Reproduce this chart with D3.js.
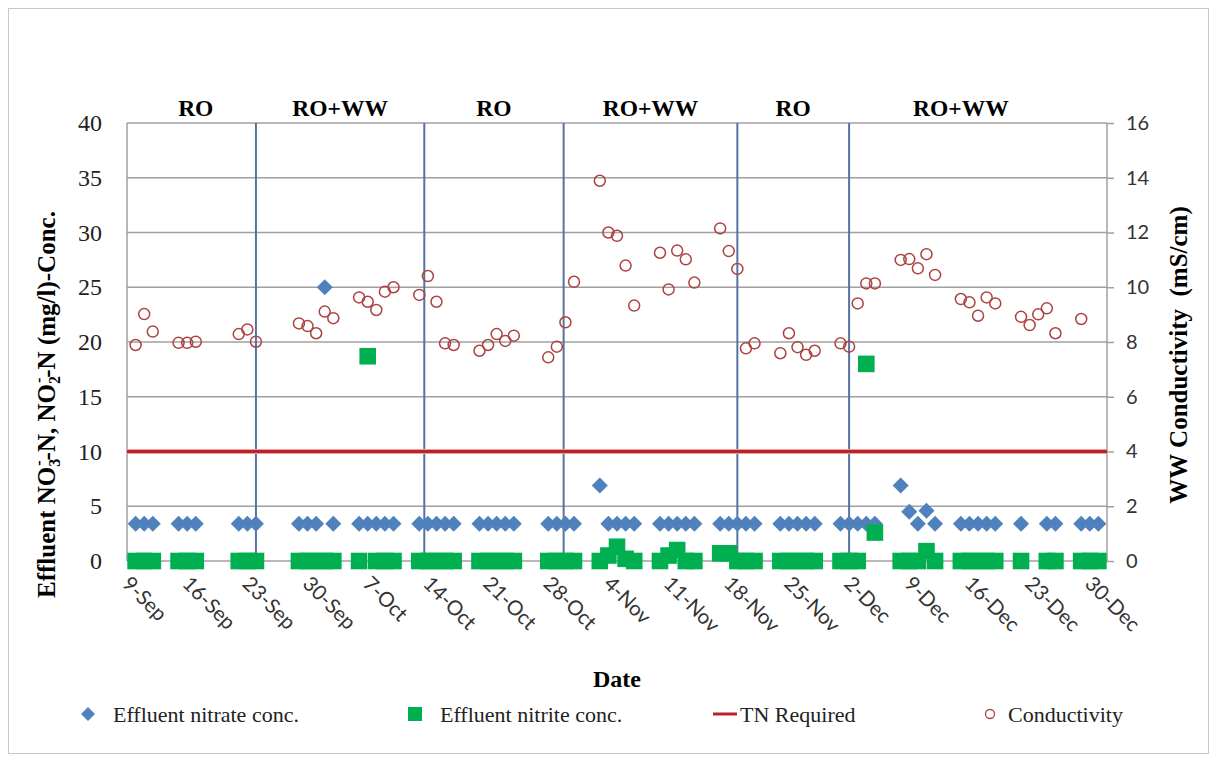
<!DOCTYPE html>
<html>
<head>
<meta charset="utf-8">
<script src="https://cdn.jsdelivr.net/npm/d3@7"></script>
<style>
  body { margin: 0; background: #fff; }
</style>
</head>
<body>
<svg id="chart" width="1217" height="764"></svg>
<script>
// sampling days for effluent nitrate / nitrite
var sampleDates = [
  '2014-09-10', '2014-09-11', '2014-09-12',
  '2014-09-15', '2014-09-16', '2014-09-17',
  '2014-09-22', '2014-09-23', '2014-09-24',
  '2014-09-29', '2014-09-30', '2014-10-01', '2014-10-02', '2014-10-03',
  '2014-10-06', '2014-10-07', '2014-10-08', '2014-10-09', '2014-10-10',
  '2014-10-13', '2014-10-14', '2014-10-15', '2014-10-16', '2014-10-17',
  '2014-10-20', '2014-10-21', '2014-10-22', '2014-10-23', '2014-10-24',
  '2014-10-28', '2014-10-29', '2014-10-30', '2014-10-31',
  '2014-11-03', '2014-11-04', '2014-11-05', '2014-11-06', '2014-11-07',
  '2014-11-10', '2014-11-11', '2014-11-12', '2014-11-13', '2014-11-14',
  '2014-11-17', '2014-11-18', '2014-11-19', '2014-11-20', '2014-11-21',
  '2014-11-24', '2014-11-25', '2014-11-26', '2014-11-27', '2014-11-28',
  '2014-12-01', '2014-12-02', '2014-12-03', '2014-12-04', '2014-12-05',
  '2014-12-08', '2014-12-09', '2014-12-10', '2014-12-11', '2014-12-12',
  '2014-12-15', '2014-12-16', '2014-12-17', '2014-12-18', '2014-12-19',
  '2014-12-22',
  '2014-12-25', '2014-12-26',
  '2014-12-29', '2014-12-30', '2014-12-31'
];

var nitrate = [
  3.4, 3.4, 3.4,
  3.4, 3.4, 3.4,
  3.4, 3.4, 3.4,
  3.4, 3.4, 3.4, 25, 3.4,
  3.4, 3.4, 3.4, 3.4, 3.4,
  3.4, 3.4, 3.4, 3.4, 3.4,
  3.4, 3.4, 3.4, 3.4, 3.4,
  3.4, 3.4, 3.4, 3.4,
  6.9, 3.4, 3.4, 3.4, 3.4,
  3.4, 3.4, 3.4, 3.4, 3.4,
  3.4, 3.4, 3.4, 3.4, 3.4,
  3.4, 3.4, 3.4, 3.4, 3.4,
  3.4, 3.4, 3.4, 3.4, 3.4,
  6.9, 4.5, 3.4, 4.6, 3.4,
  3.4, 3.4, 3.4, 3.4, 3.4,
  3.4,
  3.4, 3.4,
  3.4, 3.4, 3.4
];

var nitrite = [
  0, 0, 0,
  0, 0, 0,
  0, 0, 0,
  0, 0, 0, 0, 0,
  0, 18.7, 0, 0, 0,
  0, 0, 0, 0, 0,
  0, 0, 0, 0, 0,
  0, 0, 0, 0,
  0, 0.5, 1.3, 0.2, 0,
  0, 0.5, 1.0, 0, 0,
  0.7, 0.7, 0, 0, 0,
  0, 0, 0, 0, 0,
  0, 0, 0, 18, 2.6,
  0, 0, 0, 0.9, 0,
  0, 0, 0, 0, 0,
  0,
  0, 0,
  0, 0, 0
];

// conductivity measured on a slightly different set of days
var condDates = [
  '2014-09-10', '2014-09-11', '2014-09-12',
  '2014-09-15', '2014-09-16', '2014-09-17',
  '2014-09-22', '2014-09-23', '2014-09-24',
  '2014-09-29', '2014-09-30', '2014-10-01', '2014-10-02', '2014-10-03',
  '2014-10-06', '2014-10-07', '2014-10-08', '2014-10-09', '2014-10-10',
  '2014-10-13', '2014-10-14', '2014-10-15', '2014-10-16', '2014-10-17',
  '2014-10-20', '2014-10-21', '2014-10-22', '2014-10-23', '2014-10-24',
  '2014-10-28', '2014-10-29', '2014-10-30', '2014-10-31',
  '2014-11-03', '2014-11-04', '2014-11-05', '2014-11-06', '2014-11-07',
  '2014-11-10', '2014-11-11', '2014-11-12', '2014-11-13', '2014-11-14',
  '2014-11-17', '2014-11-18', '2014-11-19', '2014-11-20', '2014-11-21',
  '2014-11-24', '2014-11-25', '2014-11-26', '2014-11-27', '2014-11-28',
  '2014-12-01', '2014-12-02', '2014-12-03', '2014-12-04', '2014-12-05',
  '2014-12-08', '2014-12-09', '2014-12-10', '2014-12-11', '2014-12-12',
  '2014-12-15', '2014-12-16', '2014-12-17', '2014-12-18', '2014-12-19',
  '2014-12-22', '2014-12-23', '2014-12-24', '2014-12-25', '2014-12-26',
  '2014-12-29'
];

var conductivity = [
  7.89, 9.02, 8.38,
  7.97, 7.97, 8.01,
  8.29, 8.46, 8.01,
  8.68, 8.58, 8.32, 9.11, 8.87,
  9.63, 9.47, 9.17, 9.84, 10.0,
  9.72, 10.41, 9.47, 7.95, 7.89,
  7.68, 7.89, 8.29, 8.04, 8.23,
  7.44, 7.83, 8.72, 10.2,
  13.89, 12.0, 11.88, 10.79, 9.33,
  11.26, 9.92, 11.34, 11.02, 10.17,
  12.15, 11.32, 10.67, 7.77, 7.95,
  7.59, 8.32, 7.81, 7.53, 7.68,
  7.95, 7.83, 9.41, 10.14, 10.14,
  11.0, 11.03, 10.69, 11.21, 10.45,
  9.57, 9.45, 8.96, 9.63, 9.41,
  8.92, 8.62, 9.01, 9.23, 8.32,
  8.84
];

var tnRequired = 10;

// operating phases, separated by the vertical lines
var phaseBreaks = ['2014-09-24 00:00', '2014-10-13 14:00', '2014-10-29 19:00', '2014-11-19 00:00', '2014-12-02 00:00'];
var phaseNames = ['RO', 'RO+WW', 'RO', 'RO+WW', 'RO', 'RO+WW'];
var phaseStart = '2014-09-10 00:00';
var phaseEnd = '2014-12-28 00:00';

var xDomain = ['2014-09-09', '2015-01-01'];
var xTickDates = [
  '2014-09-09', '2014-09-16', '2014-09-23', '2014-09-30', '2014-10-07', '2014-10-14',
  '2014-10-21', '2014-10-28', '2014-11-04', '2014-11-11', '2014-11-18', '2014-11-25',
  '2014-12-02', '2014-12-09', '2014-12-16', '2014-12-23', '2014-12-30'
];
var leftTicks = [0, 5, 10, 15, 20, 25, 30, 35, 40];
var rightTicks = [0, 2, 4, 6, 8, 10, 12, 14, 16];

var legendNames = ['Effluent nitrate conc.', 'Effluent nitrite conc.', 'TN Required', 'Conductivity'];

var parseDay = d3.timeParse('%Y-%m-%d');
var parseTime = d3.timeParse('%Y-%m-%d %H:%M');
var fmtTick = d3.timeFormat('%-d-%b');

var serif = '"Liberation Serif", "Times New Roman", serif';
var sans = 'Lato, "Liberation Sans", sans-serif';

var blue = '#4f81bd';
var green = '#00b050';
var red = '#c0202a';
var circleRed = '#ac4340';
var gridGrey = '#a0a0a0';
var phaseBlue = '#5673a0';

var margin = { left: 127, right: 110, top: 123, bottom: 203 };
var W = 1217, H = 764;
var x0 = margin.left, x1 = W - margin.right;
var y0 = H - margin.bottom, y1 = margin.top;

var svg = d3.select('#chart');

svg.append('rect')
  .attr('x', 8.5).attr('y', 8.5)
  .attr('width', 1200).attr('height', 745)
  .attr('fill', '#fff')
  .attr('stroke', '#c8c8c8');

var xScale = d3.scaleTime()
  .domain(xDomain.map(parseDay))
  .range([x0, x1]);
var yLeft = d3.scaleLinear().domain([0, 40]).range([y0, y1]);
var yRight = d3.scaleLinear().domain([0, 16]).range([y0, y1]);

// horizontal gridlines
svg.append('g')
  .selectAll('line')
  .data(leftTicks)
  .enter()
  .append('line')
  .attr('x1', x0).attr('x2', x1)
  .attr('y1', function(d) { return yLeft(d); })
  .attr('y2', function(d) { return yLeft(d); })
  .attr('stroke', gridGrey)
  .attr('stroke-width', 1.5);

// plot side line
svg.append('line')
  .attr('x1', x0).attr('x2', x0).attr('y1', y1).attr('y2', y0)
  .attr('stroke', gridGrey).attr('stroke-width', 1.5);

// phase separators
svg.append('g')
  .selectAll('line')
  .data(phaseBreaks)
  .enter()
  .append('line')
  .attr('x1', function(d) { return xScale(parseTime(d)); })
  .attr('x2', function(d) { return xScale(parseTime(d)); })
  .attr('y1', y1).attr('y2', y0)
  .attr('stroke', phaseBlue)
  .attr('stroke-width', 2);

// phase labels centred between the separators
var edges = [phaseStart].concat(phaseBreaks).concat([phaseEnd]).map(function(d) {
  return xScale(parseTime(d));
});
svg.append('g')
  .selectAll('text')
  .data(phaseNames)
  .enter()
  .append('text')
  .attr('x', function(d, i) { return (edges[i] + edges[i + 1]) / 2; })
  .attr('y', 116)
  .attr('text-anchor', 'middle')
  .attr('font-family', serif)
  .attr('font-weight', 'bold')
  .attr('font-size', 23.5)
  .text(function(d) { return d; });

// left axis
var leftAxis = svg.append('g')
  .attr('transform', 'translate(' + x0 + ',0)')
  .call(d3.axisLeft(yLeft).tickValues(leftTicks).tickSize(0).tickPadding(25));
leftAxis.select('.domain').remove();
leftAxis.selectAll('text')
  .attr('font-family', serif)
  .attr('font-size', 24)
  .attr('fill', '#222');

// right axis
var rightAxis = svg.append('g')
  .attr('transform', 'translate(' + x1 + ',0)')
  .call(d3.axisRight(yRight).tickValues(rightTicks).tickSize(7).tickPadding(12));
rightAxis.select('.domain')
  .attr('stroke', gridGrey).attr('stroke-width', 1.5)
  .attr('d', 'M0,' + y1 + 'V' + y0);
rightAxis.selectAll('line').attr('stroke', gridGrey).attr('stroke-width', 1.5);
rightAxis.selectAll('text')
  .attr('font-family', sans)
  .attr('font-size', 20)
  .attr('fill', '#333');

// x tick labels, rotated
svg.append('g')
  .selectAll('text')
  .data(xTickDates)
  .enter()
  .append('text')
  .attr('transform', function(d) {
    return 'translate(' + (xScale(parseDay(d)) - 6) + ',' + (y0 + 24) + ') rotate(45)';
  })
  .attr('font-family', sans)
  .attr('font-size', 20.5)
  .attr('fill', '#333')
  .text(function(d) { return fmtTick(parseDay(d)); });

// TN required line
svg.append('line')
  .attr('x1', x0).attr('x2', x1)
  .attr('y1', yLeft(tnRequired)).attr('y2', yLeft(tnRequired))
  .attr('stroke', '#e8a0a0').attr('stroke-width', 5);
svg.append('line')
  .attr('x1', x0).attr('x2', x1)
  .attr('y1', yLeft(tnRequired)).attr('y2', yLeft(tnRequired))
  .attr('stroke', red).attr('stroke-width', 3);

var diamond = 'M0,-8L8,0L0,8L-8,0Z';

var nitrateData = sampleDates.map(function(d, i) { return { date: parseDay(d), value: nitrate[i] }; });
var nitriteData = sampleDates.map(function(d, i) { return { date: parseDay(d), value: nitrite[i] }; });
var condData = condDates.map(function(d, i) { return { date: parseDay(d), value: conductivity[i] }; });

svg.append('g')
  .selectAll('path')
  .data(nitrateData)
  .enter()
  .append('path')
  .attr('d', diamond)
  .attr('transform', function(d) {
    return 'translate(' + xScale(d.date) + ',' + yLeft(d.value) + ')';
  })
  .attr('fill', blue);

svg.append('g')
  .selectAll('rect')
  .data(nitriteData)
  .enter()
  .append('rect')
  .attr('x', function(d) { return xScale(d.date) - 8.3; })
  .attr('y', function(d) { return yLeft(d.value) - 8.3; })
  .attr('width', 16.6).attr('height', 16.6)
  .attr('fill', green);

svg.append('g')
  .selectAll('circle')
  .data(condData)
  .enter()
  .append('circle')
  .attr('cx', function(d) { return xScale(d.date); })
  .attr('cy', function(d) { return yRight(d.value); })
  .attr('r', 5.5)
  .attr('fill', 'none')
  .attr('stroke', circleRed)
  .attr('stroke-width', 1.5);

// axis titles
svg.append('text')
  .attr('x', (x0 + x1) / 2)
  .attr('y', 687)
  .attr('text-anchor', 'middle')
  .attr('font-family', serif)
  .attr('font-weight', 'bold')
  .attr('font-size', 24)
  .text('Date');

var leftTitle = svg.append('text')
  .attr('transform', 'translate(55,598) rotate(-90)')
  .attr('text-anchor', 'start')
  .attr('font-family', serif)
  .attr('font-weight', 'bold')
  .attr('font-size', 25);
leftTitle.append('tspan').text('Effluent NO');
leftTitle.append('tspan').attr('font-size', 16).attr('dy', 5).text('3');
leftTitle.append('tspan').attr('font-size', 16).attr('dx', -7).attr('dy', -16).text('-');
leftTitle.append('tspan').attr('dy', 11).text('-N, NO');
leftTitle.append('tspan').attr('font-size', 16).attr('dy', 5).text('2');
leftTitle.append('tspan').attr('font-size', 16).attr('dx', -7).attr('dy', -16).text('-');
leftTitle.append('tspan').attr('dy', 11).text('-N (mg/l)-Conc.');

svg.append('text')
  .attr('transform', 'translate(1187,355) rotate(-90)')
  .attr('text-anchor', 'middle')
  .attr('font-family', serif)
  .attr('font-weight', 'bold')
  .attr('font-size', 25)
  .attr('xml:space', 'preserve')
  .text('WW Conductivity  (mS/cm)');

// legend
var legendX = [88, 415, 725, 990];
var legendTextX = [113, 440, 740, 1008];
var legendY = 714;
var legend = svg.append('g');

legend.append('path')
  .attr('d', 'M0,-7L7,0L0,7L-7,0Z')
  .attr('transform', 'translate(' + legendX[0] + ',' + legendY + ')')
  .attr('fill', blue);
legend.append('rect')
  .attr('x', legendX[1] - 7).attr('y', legendY - 7)
  .attr('width', 14).attr('height', 14)
  .attr('fill', green);
legend.append('line')
  .attr('x1', legendX[2] - 12).attr('x2', legendX[2] + 12)
  .attr('y1', legendY).attr('y2', legendY)
  .attr('stroke', red).attr('stroke-width', 3);
legend.append('circle')
  .attr('cx', legendX[3]).attr('cy', legendY)
  .attr('r', 4.5)
  .attr('fill', 'none')
  .attr('stroke', circleRed)
  .attr('stroke-width', 1.3);

legend.selectAll('text')
  .data(legendNames)
  .enter()
  .append('text')
  .attr('x', function(d, i) { return legendTextX[i]; })
  .attr('y', legendY + 8)
  .attr('font-family', serif)
  .attr('font-size', 22)
  .attr('fill', '#222')
  .text(function(d) { return d; });
</script>
</body>
</html>
